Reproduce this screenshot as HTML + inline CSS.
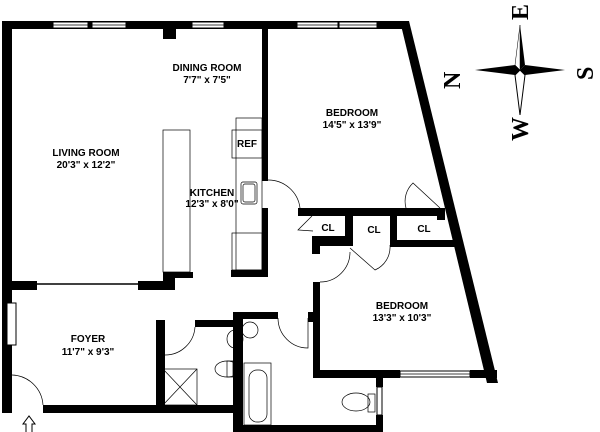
<!DOCTYPE html>
<html><head><style>
html,body{margin:0;padding:0;background:#fff;width:600px;height:432px;overflow:hidden}
text{font-family:"Liberation Sans",sans-serif;font-weight:bold;font-size:10px;fill:#000}
</style></head><body>
<svg width="600" height="432" viewBox="0 0 600 432" xmlns="http://www.w3.org/2000/svg">
<g fill="#000">
<!-- top wall -->
<rect x="2" y="21" width="406" height="8"/>
<!-- left wall -->
<rect x="2" y="21" width="10" height="392"/>
<!-- pillar -->
<rect x="163" y="29" width="13" height="10"/>
<!-- dining/bedroom wall -->
<rect x="262" y="21" width="6" height="160"/>
<rect x="262" y="208" width="6" height="69"/>
<!-- kitchen bottom -->
<rect x="231" y="270" width="37" height="7"/>
<rect x="175" y="272" width="18" height="6"/>
<!-- living/foyer wall -->
<rect x="12" y="281" width="25" height="9"/>
<rect x="138" y="281" width="37" height="9"/>
<rect x="163" y="272" width="12" height="18"/>
<!-- right diagonal wall -->
<polygon points="400,21 409,21 498,383 487,383"/>
<!-- closets -->
<rect x="298" y="208" width="146" height="8"/>
<rect x="345" y="216" width="8" height="26"/>
<rect x="390" y="216" width="7" height="28"/>
<rect x="390" y="240" width="65" height="7"/>
<rect x="312" y="236" width="41" height="10"/>
<rect x="312" y="236" width="8" height="18"/>
<rect x="437" y="208" width="8" height="12"/>
<!-- bedroom2 -->
<rect x="313" y="282" width="7" height="96"/>
<rect x="313" y="370" width="87" height="8"/>
<rect x="470" y="370" width="27" height="8"/>
<!-- bath block -->
<rect x="233" y="312" width="10" height="120"/>
<rect x="233" y="312" width="45" height="7"/>
<rect x="233" y="425" width="150" height="7"/>
<rect x="376" y="415" width="7" height="17"/>
<rect x="376" y="378" width="7" height="9"/>
<rect x="308" y="312" width="5" height="10"/>
<!-- foyer bottom / wc -->
<rect x="43" y="405" width="193" height="8"/>
<rect x="156" y="320" width="9" height="93"/>
<rect x="195" y="320" width="41" height="7"/>
</g>
<!-- windows -->
<g fill="#fff" stroke="#000" stroke-width="1">
<rect x="53" y="22" width="35" height="6"/><rect x="92" y="22" width="34" height="6"/>
<rect x="192" y="22" width="32" height="6"/>
<rect x="297" y="22" width="41" height="6"/><rect x="339" y="22" width="38" height="6"/>
<rect x="400" y="371" width="70" height="6"/>
<rect x="377" y="387" width="5" height="28"/>
<rect x="7" y="303" width="9" height="42"/>
</g>
<g stroke="#000" stroke-width="0.7" fill="none">
<line x1="53" y1="25" x2="126" y2="25"/><line x1="192" y1="25" x2="224" y2="25"/>
<line x1="297" y1="25" x2="377" y2="25"/><line x1="400" y1="374" x2="470" y2="374"/>
<line x1="37" y1="284" x2="138" y2="284" stroke-width="1.5"/>
<!-- kitchen counters -->
<rect x="163" y="130" width="27" height="142"/>
<rect x="236" y="118" width="26" height="152"/>
<rect x="232" y="130" width="30" height="28"/>
<rect x="232" y="233" width="30" height="37"/>
<rect x="241" y="182" width="16" height="22" rx="2"/>
<rect x="243" y="184" width="12" height="18" rx="2"/>
<!-- doors -->
<path d="M268,180 A32,32 0 0 1 300,208"/>
<path d="M406,208 A25,25 0 0 1 413,183 L440,208"/>
<path d="M313,231 L298,230 L312,216" />
<path d="M350,248 L375,270 A25,25 0 0 0 390,245"/>
<path d="M320,282 A30,30 0 0 0 350,252"/>
<path d="M278,318 A30,30 0 0 0 308,348 L308,318"/>
<path d="M165,355 A30,30 0 0 0 195,327"/>
<path d="M12,375 A32,32 0 0 1 43,405"/>
<!-- shower -->
<rect x="163" y="369" width="34" height="36"/>
<line x1="163" y1="369" x2="197" y2="405"/><line x1="197" y1="369" x2="163" y2="405"/>
<!-- toilets/sinks -->
<ellipse cx="227" cy="369" rx="12" ry="8"/><rect x="227" y="361" width="6" height="16"/>
<ellipse cx="235" cy="339" rx="8" ry="9"/>
<ellipse cx="250" cy="330" rx="8" ry="8"/>
<rect x="244" y="363" width="27" height="62"/>
<rect x="249" y="370" width="18" height="52" rx="8"/>
<ellipse cx="356" cy="402" rx="14" ry="9"/><rect x="368" y="394" width="7" height="18"/>
</g>
<!-- entry arrow -->
<path d="M29,432 L29,424 L25,424 L29,418 L33,424 L29,424" stroke="#000" fill="none" stroke-width="1"/>
<path d="M26,432 V424 H23 L29,416 L35,424 H32 V432" stroke="#000" fill="#fff" stroke-width="1"/>
<!-- labels -->
<g text-anchor="middle">
<text x="207" y="71">DINING ROOM</text><text x="207" y="83">7'7" x 7'5"</text>
<text x="86" y="156">LIVING ROOM</text><text x="86" y="168">20'3" x 12'2"</text>
<text x="247" y="147">REF</text>
<text x="212" y="196">KITCHEN</text><text x="212" y="207">12'3" x 8'0"</text>
<text x="352" y="116">BEDROOM</text><text x="352" y="128">14'5" x 13'9"</text>
<text x="402" y="309">BEDROOM</text><text x="402" y="321">13'3" x 10'3"</text>
<text x="88" y="342">FOYER</text><text x="88" y="355">11'7" x 9'3"</text>
<text x="328" y="231" font-size="9">CL</text><text x="374" y="233" font-size="9">CL</text><text x="424" y="232" font-size="9">CL</text>
</g>
<!-- compass -->
<g transform="translate(520,70)">
<polygon points="0,-45 5,-5 0,0 -5,-5" fill="#000"/>
<polygon points="0,45 5,5 0,0 -5,5" fill="#fff" stroke="#000"/>
<polygon points="-45,0 -5,-5 0,0 -5,5" fill="#000"/>
<polygon points="45,0 5,-5 0,0 5,5" fill="#000"/>
<polygon points="0,-45 -5,-5 0,0" fill="#fff" stroke="#000" stroke-width="0.5"/>
</g>
<g font-family="Liberation Serif,serif" font-weight="bold" font-size="24" fill="#000">
<text x="0" y="0" transform="translate(452,81) rotate(-90) translate(-8,8)" style="font-family:'Liberation Serif',serif;font-size:24px">N</text>
<text x="0" y="0" transform="translate(585,72) rotate(-90) translate(-8,8)" style="font-family:'Liberation Serif',serif;font-size:24px">S</text>
<text x="0" y="0" transform="translate(520,12) rotate(-90) translate(-8,8)" style="font-family:'Liberation Serif',serif;font-size:24px">E</text>
<text x="0" y="0" transform="translate(520,130) rotate(-90) translate(-11,8)" style="font-family:'Liberation Serif',serif;font-size:24px">W</text>
</g>
</svg>
</body></html>
